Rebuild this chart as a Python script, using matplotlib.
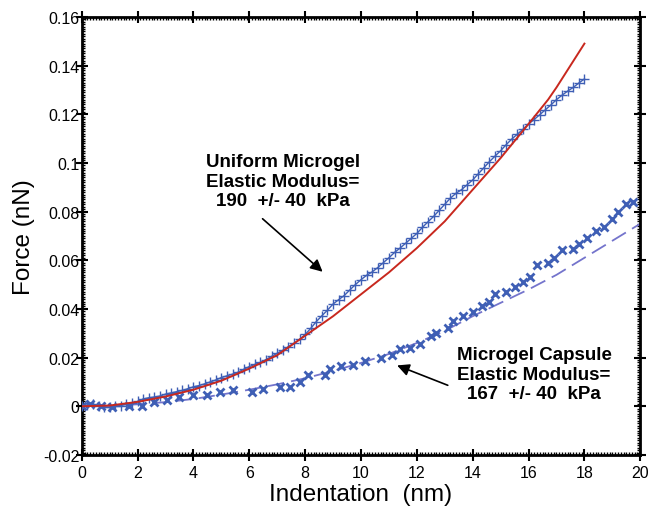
import matplotlib
matplotlib.use("Agg")
import matplotlib.pyplot as plt
import numpy as np
from matplotlib.ticker import MultipleLocator, AutoMinorLocator

plt.rcParams["font.family"] = ["Liberation Sans", "DejaVu Sans"]

# Uniform microgel: measured force curve (sampled every 0.2 nm)
uni_x = np.round(np.arange(91) * 0.2, 1)
uni_y = [0.0, 0.0005, 0.0008, 0.0003, -0.0002, -0.0005, 0.0, 0.0003, 0.0008, 0.0012,
         0.002, 0.003, 0.0035, 0.0038, 0.0042, 0.005, 0.0055, 0.006, 0.0065, 0.0072,
         0.008, 0.0085, 0.0092, 0.010, 0.0108, 0.0118, 0.0125, 0.0132, 0.014, 0.0152,
         0.0163, 0.0172, 0.018, 0.0192, 0.0205, 0.0218, 0.023, 0.0245, 0.0258, 0.0275,
         0.0295, 0.032, 0.0348, 0.0372, 0.0395, 0.042, 0.0438, 0.0455, 0.0478, 0.050,
         0.052, 0.0538, 0.0552, 0.057, 0.059, 0.061, 0.0632, 0.065, 0.067, 0.069,
         0.071, 0.0735, 0.0758, 0.078, 0.0805, 0.083, 0.0855, 0.0875, 0.089, 0.091,
         0.093, 0.0955, 0.098, 0.1005, 0.1028, 0.105, 0.1075, 0.1098, 0.1118, 0.1138,
         0.116, 0.1178, 0.1198, 0.1218, 0.1238, 0.126, 0.1278, 0.1295, 0.131, 0.1328,
         0.1345]

# Uniform microgel: fit (red)
fit_uni_x = [0, 1, 2, 3, 4, 5, 6, 7, 8, 9, 10, 11, 12, 13, 14, 15, 16, 16.7, 17, 18]
fit_uni_y = [0.0, 0.0003, 0.0018, 0.004, 0.0068, 0.0105, 0.0155, 0.021, 0.029, 0.037,
             0.046, 0.055, 0.065, 0.076, 0.089, 0.102, 0.116, 0.126, 0.131, 0.149]

# Microgel capsule: measured force curve
cap_x = [0.0, 0.3, 0.7, 1.1, 1.7, 2.15, 2.6, 3.05, 3.5, 4.0, 4.5, 4.95, 5.4, 6.1, 6.5,
         7.1, 7.45, 7.8, 8.1, 8.7, 8.9, 9.3, 9.7, 10.15, 10.7, 11.1, 11.4, 11.75, 12.1,
         12.5, 12.7, 13.1, 13.3, 13.65, 14.0, 14.35, 14.6, 14.8, 15.2, 15.5, 15.8, 16.05,
         16.3, 16.7, 16.9, 17.2, 17.6, 17.8, 18.1, 18.4, 18.7, 19.0, 19.2, 19.5, 19.75]
cap_y = [0.0, 0.0008, 0.0003, -0.0004, 0.0, 0.0, 0.0016, 0.0025, 0.004, 0.0045, 0.0045,
         0.0057, 0.0066, 0.0057, 0.007, 0.0078, 0.008, 0.0098, 0.0127, 0.013, 0.0155,
         0.0165, 0.017, 0.0185, 0.020, 0.021, 0.0234, 0.024, 0.0255, 0.029, 0.030, 0.032,
         0.035, 0.037, 0.0386, 0.041, 0.043, 0.046, 0.047, 0.049, 0.051, 0.053, 0.058,
         0.059, 0.061, 0.064, 0.0645, 0.0666, 0.069, 0.072, 0.0735, 0.077, 0.080, 0.083,
         0.084]

# Microgel capsule: fit (dashed)
fit_cap_x = list(range(0, 21))
fit_cap_y = [0.0, 0.0002, 0.0008, 0.0017, 0.003, 0.0048, 0.0068, 0.009, 0.0115, 0.0145,
             0.0178, 0.0215, 0.026, 0.031, 0.037, 0.0425, 0.048, 0.054, 0.061, 0.068,
             0.075]

BLUE = "#3f5fb5"
RED = "#c8281e"
DASH = "#7474cc"

fig = plt.figure(figsize=(6.54, 5.10), dpi=100)
ax = fig.add_axes([0.125, 0.106, 0.854, 0.859])

ax.plot(fit_cap_x, fit_cap_y, color=DASH, lw=1.3, ls=(0, (9, 4)), zorder=2)
ax.plot(cap_x, cap_y, ls="none", marker="x", ms=6, mew=2.0, color=BLUE, zorder=3)
ax.plot(uni_x, uni_y, ls="-", lw=1.0, marker="+", ms=7, mew=1.0, color=BLUE, zorder=3)
ax.plot(fit_uni_x, fit_uni_y, color=RED, lw=1.4, zorder=4)

ax.set_xlim(0, 20)
ax.set_ylim(-0.02, 0.16)
ax.xaxis.set_major_locator(MultipleLocator(2))
ax.yaxis.set_major_locator(MultipleLocator(0.02))
ax.xaxis.set_minor_locator(AutoMinorLocator(20))
ax.yaxis.set_minor_locator(AutoMinorLocator(20))
ax.xaxis.set_major_formatter(plt.FuncFormatter(lambda v, p: f"{v:g}"))
ax.yaxis.set_major_formatter(plt.FuncFormatter(lambda v, p: f"{v:g}"))

ax.tick_params(which="major", direction="inout", length=9, width=1.5,
               top=True, right=True, labelsize=11.5)
ax.tick_params(which="minor", direction="in", length=2.5, width=1.0,
               top=True, right=True)
ax.tick_params(axis="y", which="major", pad=-3)
ax.tick_params(axis="x", which="major", pad=3)
for s in ax.spines.values():
    s.set_linewidth(2.0)

ax.set_xlabel("Indentation  (nm)", fontsize=17.5, labelpad=2)
ax.set_ylabel("Force (nN)", fontsize=17.5, labelpad=6)

ax.annotate("", xy=(8.7, 0.0545), xytext=(6.4, 0.0778),
            arrowprops=dict(arrowstyle="-|>", color="black", lw=1.2,
                            mutation_scale=18))
ax.text(7.2, 0.0925, "Uniform Microgel\nElastic Modulus=\n190  +/- 40  kPa",
        ha="center", va="center", fontsize=13.5, fontweight="bold",
        linespacing=1.2)

ax.annotate("", xy=(11.2, 0.0172), xytext=(13.2, 0.0082),
            arrowprops=dict(arrowstyle="-|>", color="black", lw=1.2,
                            mutation_scale=18))
ax.text(16.2, 0.0132, "Microgel Capsule\nElastic Modulus=\n167  +/- 40  kPa",
        ha="center", va="center", fontsize=13.5, fontweight="bold",
        linespacing=1.2)

fig.savefig("out.png", dpi=100)
